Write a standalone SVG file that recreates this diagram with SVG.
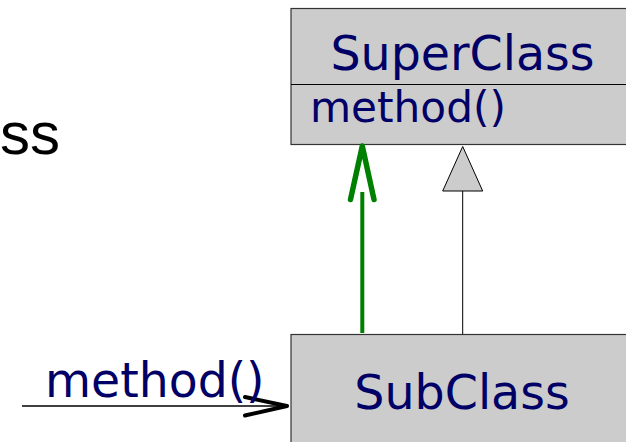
<svg xmlns="http://www.w3.org/2000/svg" width="626" height="442" viewBox="0 0 626 442">
<style>
.box{fill:#cccccc;stroke:#333333;stroke-width:1.2}
.t{font-family:"DejaVu Sans",sans-serif;fill:#000066}
</style>
<rect width="626" height="442" fill="#ffffff"/>
<text x="0" y="154" font-family="Liberation Sans, Arial, sans-serif" font-size="60" fill="#000000">ss</text>
<g id="superclass">
<rect class="box" x="291" y="8.5" width="345" height="136"/>
<line x1="291" y1="84.5" x2="636" y2="84.5" stroke="#000000" stroke-width="1.2"/>
<text class="t" x="462.5" y="70" font-size="47.5" text-anchor="middle">SuperClass</text>
<text class="t" x="310" y="122" font-size="42.2">method()</text>
</g>
<g id="subclass">
<rect class="box" x="291" y="334.5" width="345" height="120"/>
<text class="t" x="462" y="409" font-size="47.5" text-anchor="middle">SubClass</text>
</g>
<g id="connectors">
<line x1="362.3" y1="333" x2="362.3" y2="192" stroke="#008000" stroke-width="4"/>
<polyline points="350.5,199.5 362.3,146 374,199.5" fill="none" stroke="#008000" stroke-width="5.5" stroke-linecap="round" stroke-linejoin="round"/>
<line x1="462.7" y1="334" x2="462.7" y2="191" stroke="#000000" stroke-width="1"/>
<polygon points="462.7,146.5 442.7,191 482.7,191" fill="#cccccc" stroke="#000000" stroke-width="1"/>
<line x1="22" y1="406" x2="286" y2="406" stroke="#000000" stroke-width="1.5"/>
<polyline points="245,397 287,406 245,415.5" fill="none" stroke="#000000" stroke-width="4" stroke-linecap="round" stroke-linejoin="round"/>
<text class="t" x="45" y="397" font-size="47.3">method()</text>
</g>
</svg>
